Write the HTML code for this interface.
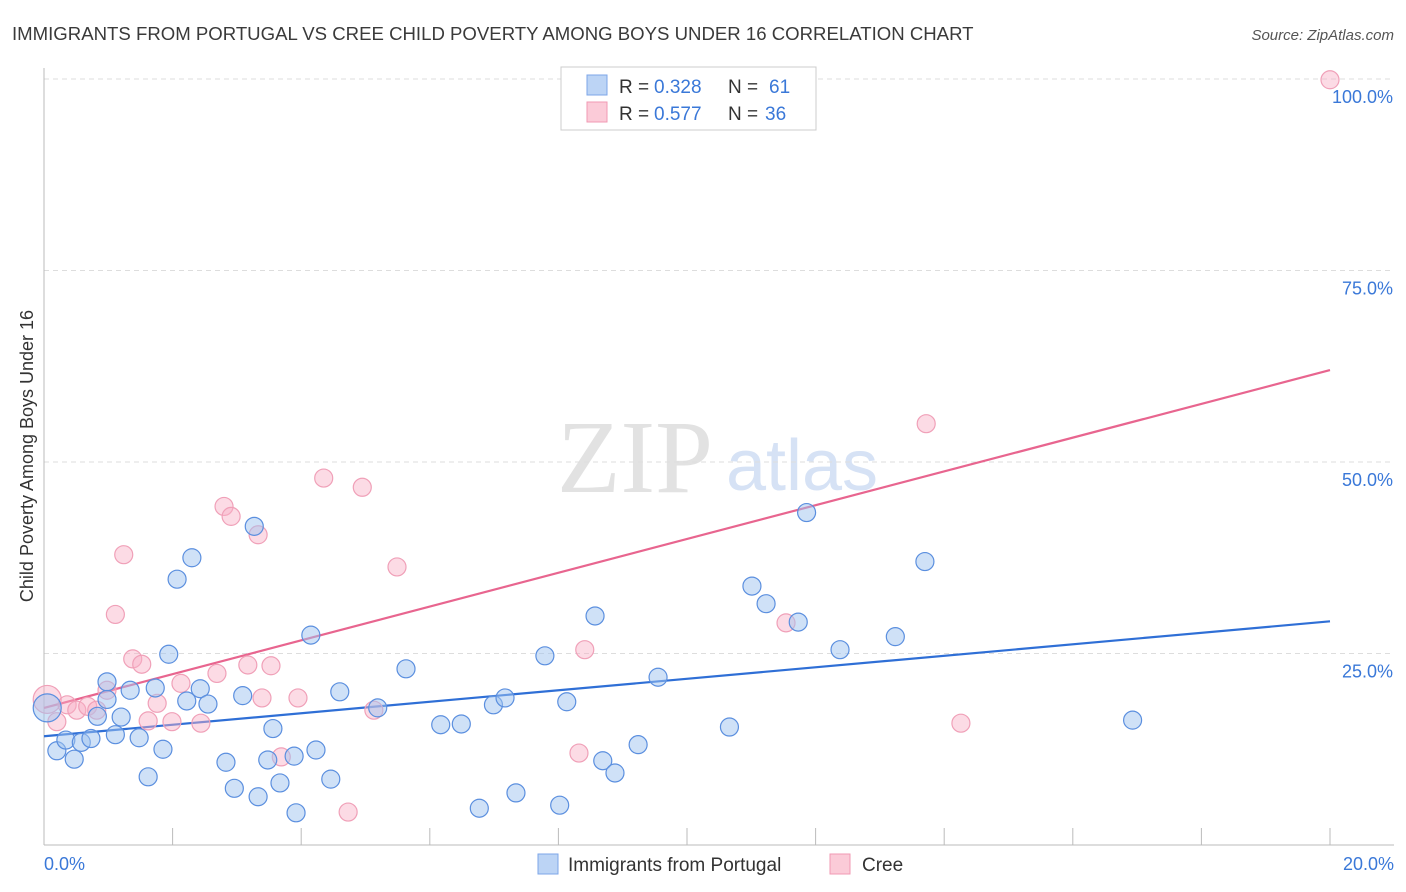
<!DOCTYPE html>
<html><head><meta charset="utf-8"><style>
body{margin:0;background:#fff;font-family:"Liberation Sans",sans-serif;}
svg{display:block}
</style></head><body>
<svg width="1406" height="892" id="chart">
<text x="12" y="40" font-size="18.6" fill="#3a3a3a">IMMIGRANTS FROM PORTUGAL VS CREE CHILD POVERTY AMONG BOYS UNDER 16 CORRELATION CHART</text>
<text x="1394" y="40" font-size="15" fill="#555" font-style="italic" text-anchor="end">Source: ZipAtlas.com</text>
<text x="33" y="456" font-size="18" fill="#333" text-anchor="middle" transform="rotate(-90 33 456)">Child Poverty Among Boys Under 16</text>
<text x="635" y="492" font-size="104" fill="#e2e2e2" font-family="Liberation Serif, serif" text-anchor="middle">ZIP</text>
<text x="802" y="490" font-size="72" fill="#d6e2f5" text-anchor="middle">atlas</text>
<g id="grid"></g><g id="axes"></g><g id="lines"></g><g id="pts"></g>
<g>
<rect x="561" y="67" width="255" height="63" fill="#fff" stroke="#ccc"/>
<rect x="587" y="75" width="20" height="20" fill="#bcd4f5" stroke="#7da6e8"/>
<rect x="587" y="102" width="20" height="20" fill="#fbcbd8" stroke="#f09ab3"/>
<text x="619" y="93" font-size="19" fill="#333">R =</text><text x="654" y="93" font-size="19" fill="#3a78d8">0.328</text>
<text x="728" y="93" font-size="19" fill="#333">N =</text><text x="769" y="93" font-size="19" fill="#3a78d8">61</text>
<text x="619" y="120" font-size="19" fill="#333">R =</text><text x="654" y="120" font-size="19" fill="#3a78d8">0.577</text>
<text x="728" y="120" font-size="19" fill="#333">N =</text><text x="765" y="120" font-size="19" fill="#3a78d8">36</text>
</g>
<g>
<rect x="538" y="854" width="20" height="20" fill="#bcd4f5" stroke="#7da6e8"/>
<text x="568" y="871" font-size="19" fill="#333">Immigrants from Portugal</text>
<rect x="830" y="854" width="20" height="20" fill="#fbcbd8" stroke="#f09ab3"/>
<text x="862" y="871" font-size="19" fill="#333">Cree</text>
</g>
</svg>
<script>
const yTicks=[25,50,75,100];
const yTickLabels=["25.0%","50.0%","75.0%","100.0%"];
const xEndLabels=["0.0%","20.0%"];
const blueX=[0.05,0.2,0.34,0.47,0.58,0.73,0.83,0.98,1.11,1.2,1.34,1.48,1.62,1.73,1.85,1.94,2.07,2.22,2.3,2.43,2.55,2.83,2.96,3.09,3.27,3.33,3.48,3.56,3.67,3.89,3.92,4.15,4.23,4.46,4.6,5.19,5.63,6.17,6.49,6.77,6.99,7.17,7.34,7.79,8.02,8.13,8.57,8.69,8.88,9.24,9.55,10.66,11.01,11.23,11.73,11.86,12.38,13.24,13.7,16.93,0.98];
const blueY=[17.9,12.3,13.7,11.2,13.4,13.9,16.8,21.3,14.4,16.7,20.2,14.0,8.9,20.5,12.5,24.9,34.7,18.8,37.5,20.4,18.4,10.8,7.4,19.5,41.6,6.3,11.1,15.2,8.1,11.6,4.2,27.4,12.4,8.6,20.0,17.9,23.0,15.7,15.8,4.8,18.3,19.2,6.8,24.7,5.2,18.7,29.9,11.0,9.4,13.1,21.9,15.4,33.8,31.5,29.1,43.4,25.5,27.2,37.0,16.3,19.0];
const pinkX=[0.05,0.2,0.36,0.51,0.68,0.82,0.98,1.11,1.24,1.38,1.52,1.62,1.76,1.99,2.13,2.44,2.69,2.8,2.91,3.17,3.33,3.39,3.53,3.69,3.95,4.35,4.73,4.95,5.13,5.49,8.32,8.41,11.54,13.72,14.26,20.0];
const pinkY=[19.0,16.1,18.3,17.6,18.1,17.6,20.2,30.1,37.9,24.3,23.6,16.2,18.5,16.1,21.1,15.9,22.4,44.2,42.9,23.5,40.5,19.2,23.4,11.5,19.2,47.9,4.3,46.7,17.6,36.3,12.0,25.5,29.0,55.0,15.9,99.9];
const blueTrend=[14.2,29.2];
const pinkTrend=[17.9,62.0];
const NS="http://www.w3.org/2000/svg";
const sx=v=>44+v/20*1286, sy=v=>845-v/100*766;
function mk(tag,attrs,parent){const e=document.createElementNS(NS,tag);for(const k in attrs)e.setAttribute(k,attrs[k]);document.getElementById(parent).appendChild(e);return e;}
yTicks.forEach((t,i)=>{
 const l=mk('line',{x1:44,x2:1394,y1:sy(t),y2:sy(t),stroke:'#ddd','stroke-dasharray':'5,4'},'grid');
 
 
 const tx=mk('text',{x:1393,y:sy(t)+24,'font-size':18,fill:'#3a78d8','text-anchor':'end'},'grid');
 tx.textContent=yTickLabels[i];
 
 
});
let a=mk('line',{x1:44,x2:44,y1:68,y2:845,stroke:'#bbb'},'axes');


a=mk('line',{x1:44,x2:1394,y1:845,y2:845,stroke:'#bbb'},'axes');


for(let i=1;i<=10;i++){const t=mk('line',{x1:sx(i*2),x2:sx(i*2),y1:828,y2:845,stroke:'#bbb'},'axes');
 
 }
[[0,'start',44],[1,'end',1394]].forEach(([i,an,x])=>{const t=mk('text',{x:x,y:870,'font-size':18,fill:'#3a78d8','text-anchor':an},'axes');t.textContent=xEndLabels[i];
 
 });
function pts(X,Y,fill,stroke,name){X.forEach((x,i)=>{const r=(i===0)?14:9;const c=mk('circle',{cx:sx(x),cy:sy(Y[i]),r:r,fill:fill,stroke:stroke,'stroke-width':1.2},'pts');
 
 });}
pts(pinkX,pinkY,'rgba(248,176,198,0.45)','#f0a0b8','cree-point');
pts(blueX,blueY,'rgba(160,195,240,0.5)','#5b8fdf','portugal-point');
let ln=mk('line',{x1:sx(0),x2:sx(20),y1:sy(blueTrend[0]),y2:sy(blueTrend[1]),stroke:'#2f6fd6','stroke-width':2.2},'lines');


ln=mk('line',{x1:sx(0),x2:sx(20),y1:sy(pinkTrend[0]),y2:sy(pinkTrend[1]),stroke:'#e8658f','stroke-width':2.2},'lines');


</script>
</body></html>
